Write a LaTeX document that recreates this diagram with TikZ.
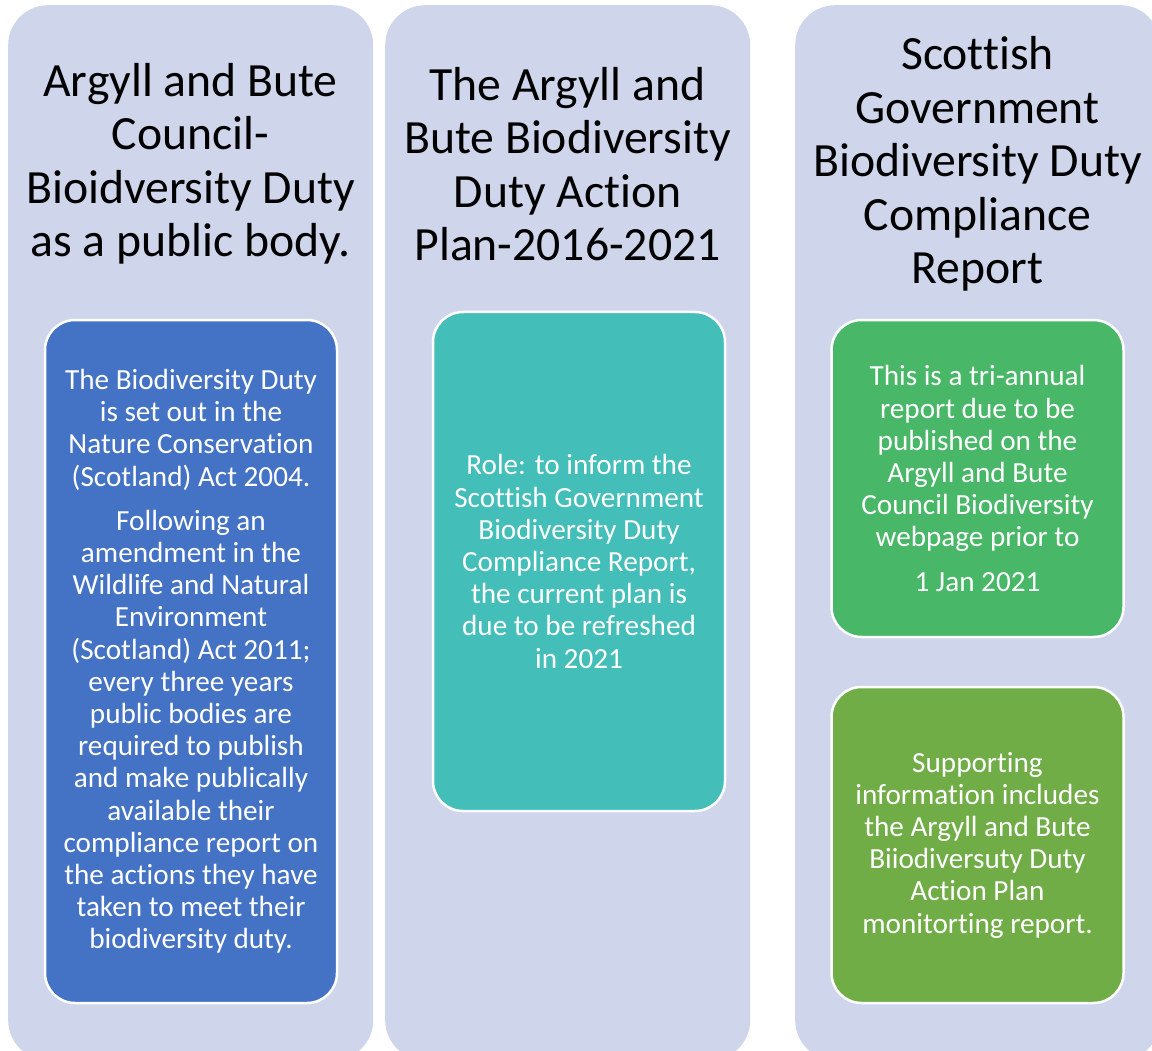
\documentclass[tikz,border=0pt]{standalone}
\usepackage{fontspec}
\setmainfont{Carlito}[Ligatures=NoCommon]
\definecolor{lane}{HTML}{CFD5EA}
\definecolor{cardblue}{HTML}{4472C4}
\definecolor{cardteal}{HTML}{43BEB8}
\definecolor{cardgreen}{HTML}{48B767}
\definecolor{cardolive}{HTML}{70AD47}
\begin{document}
\begin{tikzpicture}[x=1pt,y=-1pt,
  lanebox/.style={fill=lane, draw=none, rounded corners=40pt, minimum width=365pt, minimum height=1055pt, anchor=north west, inner sep=0pt},
  title/.style={font=\fontsize{47.7}{53.5}\selectfont, align=center, text=black, inner sep=0pt},
  card/.style={draw=white, line width=2.5pt, rounded corners=30pt, text=white, font=\fontsize{29.2}{32.2}\selectfont, align=center, inner sep=0pt, minimum width=292pt}
]
\useasboundingbox (0,0) rectangle (1152,1051);
\clip (0,0) rectangle (1152,1051);

% three lanes
\node[lanebox] (lane1) at (8,5) {};
\node[lanebox] (lane2) at (385,5) {};
\node[lanebox] (lane3) at (795,5) {};

% lane titles
\node[title] (t1) at (190.5,164) {Argyll and Bute\\Council-\\Bioidversity Duty\\as a public body.};
\node[title] (t2) at (567.5,164) {The Argyll and\\Bute Biodiversity\\Duty Action\\Plan-2016-2021};
\node[title] (t3) at (977.5,164) {Scottish\\Government\\Biodiversity Duty\\Compliance\\Report};

% cards
\node[card, fill=cardblue, minimum height=683pt] (c1) at (191,661.5)
 {The Biodiversity Duty\\is set out in the\\Nature Conservation\\(Scotland) Act 2004.\\[12pt]
  Following an\\amendment in the\\Wildlife and Natural\\Environment\\(Scotland) Act 2011;\\every three years\\public bodies are\\required to publish\\and make publically\\available their\\compliance report on\\the actions they have\\taken to meet their\\biodiversity duty.};
\node[card, fill=cardteal, minimum height=499pt] (c2) at (579,561.5)
 {Role: to inform the\\Scottish Government\\Biodiversity Duty\\Compliance Report,\\the current plan is\\due to be refreshed\\in 2021};
\node[card, fill=cardgreen, minimum height=317pt] (c3) at (977.5,478.5)
 {This is a tri-annual\\report due to be\\published on the\\Argyll and Bute\\Council Biodiversity\\webpage prior to\\[12pt]1 Jan 2021};
\node[card, fill=cardolive, minimum height=316pt] (c4) at (977.5,845)
 {Supporting\\information includes\\the Argyll and Bute\\Biiodiversuty Duty\\Action Plan\\monitorting report.};
\end{tikzpicture}
\end{document}
